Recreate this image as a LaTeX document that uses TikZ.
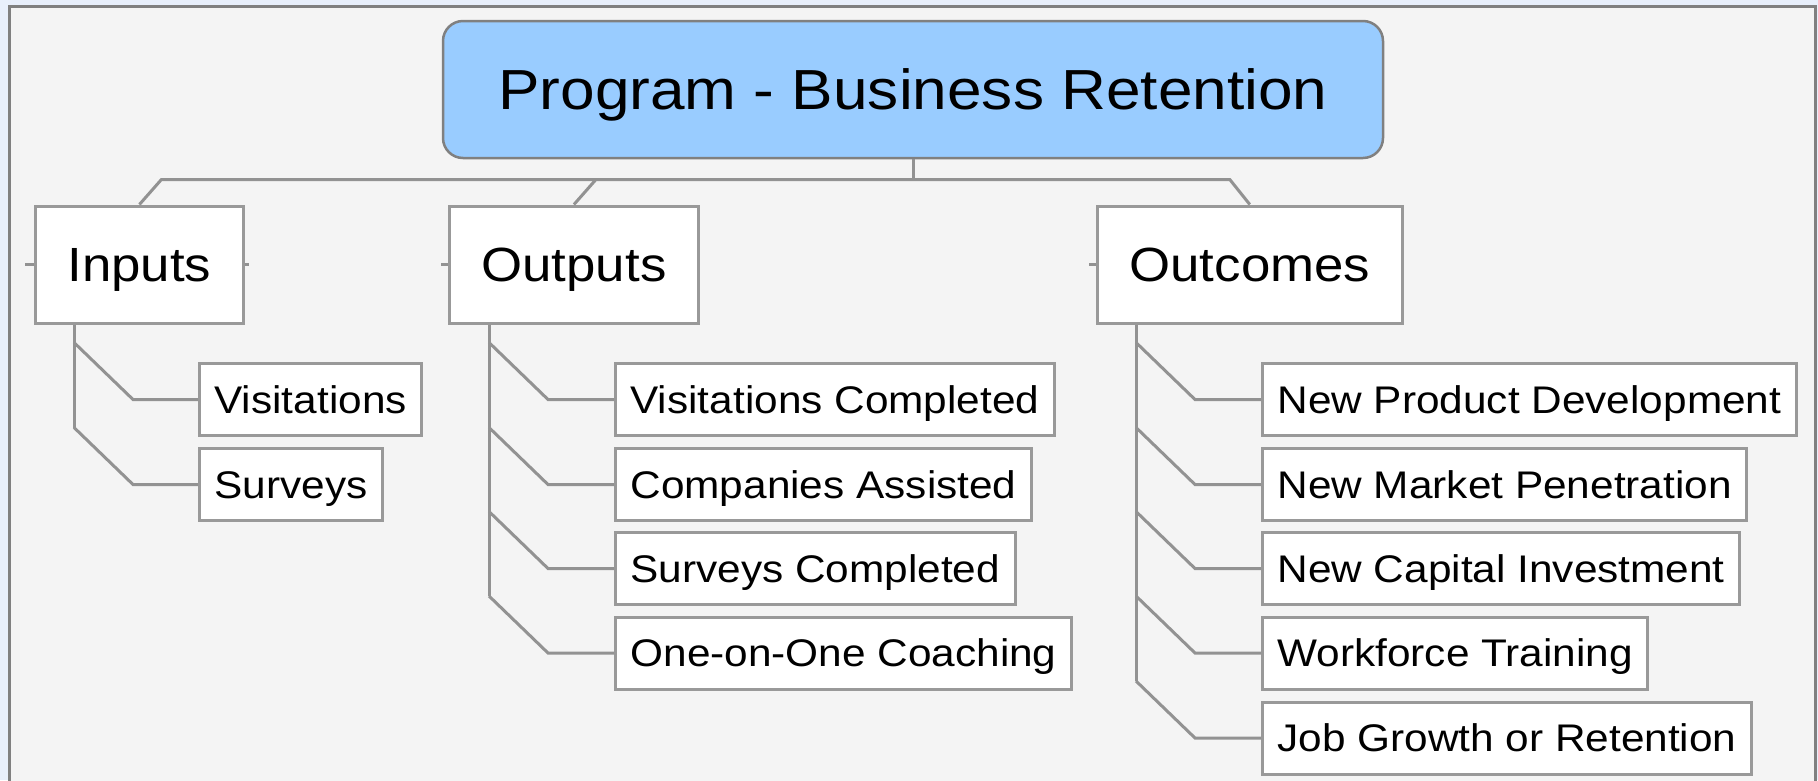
\documentclass[tikz,border=0pt]{standalone}
\usepackage{fontspec}
\setmainfont[FakeStretch=1.1]{Liberation Sans}
\usetikzlibrary{calc}
\definecolor{rootblue}{HTML}{99CCFF}
\definecolor{linkgray}{HTML}{929292}
\definecolor{boxgray}{HTML}{999999}
\definecolor{paper}{HTML}{F4F4F4}
\definecolor{margin}{HTML}{E8EFFB}
\definecolor{framegray}{HTML}{808080}

\begin{document}
\begin{tikzpicture}[x=1pt,y=-1pt]
    \tikzstyle{every node}+=[inner sep=0pt, text depth=0pt]
    \tikzstyle{rootbox}=[draw=framegray, fill=rootblue, line width=2.5pt, rounded corners=20pt, minimum width=940pt, minimum height=137pt, text height=40.5pt, font=\fontsize{56.5}{60}\selectfont]
    \tikzstyle{headbox}=[draw=boxgray, fill=white, line width=3pt, minimum height=117pt, inner xsep=32pt, anchor=west, text height=34.5pt, font=\fontsize{48}{52}\selectfont]
    \tikzstyle{leafbox}=[draw=boxgray, fill=white, line width=3pt, minimum height=72pt, inner xsep=15pt, anchor=west, text height=27.5pt, font=\fontsize{38.5}{42}\selectfont]
    \tikzstyle{link}=[draw=linkgray, line width=3pt]
    \useasboundingbox (0,0) rectangle (1818,780);
    \fill[margin] (0,0) rectangle (1818,780);
    \draw[framegray, fill=paper, line width=3pt] (9.5,6.5) rectangle (1815.5,800);
    \node[rootbox] (root) at (913,89.5) {Program - Business Retention};
    \node[headbox] (inputs) at (34,264.5) {Inputs};
    \node[headbox] (outputs) at (448,264.5) {Outputs};
    \node[headbox] (outcomes) at (1096,264.5) {Outcomes};
    \node[leafbox] (visits) at (198,399.5) {Visitations};
    \node[leafbox] (surveys) at (198,484.5) {Surveys};
    \node[leafbox] (visitsDone) at (614,399.5) {Visitations Completed};
    \node[leafbox] (assisted) at (614,484.5) {Companies Assisted};
    \node[leafbox] (surveysDone) at (614,568.5) {Surveys Completed};
    \node[leafbox] (coaching) at (614,653) {One-on-One Coaching};
    \node[leafbox] (product) at (1261,399.5) {New Product Development};
    \node[leafbox] (market) at (1261,484.5) {New Market Penetration};
    \node[leafbox] (capital) at (1261,568.5) {New Capital Investment};
    \node[leafbox] (workforce) at (1261,653) {Workforce Training};
    \node[leafbox] (jobs) at (1261,738) {Job Growth or Retention};
    \coordinate (busLeft) at ($(inputs.north)+(22,-25)$);
    \coordinate (busRight) at ($(outcomes.north)+(-20,-25)$);
    \draw[link] (inputs.north) -- (busLeft) -- (busRight) -- (outcomes.north);
    \draw[link] (outputs.north) -- ($(outputs.north)+(22,-25)$);
    \draw[link] (root.south) -- (root.south |- busLeft);
    \draw[link] (inputs.west) -- ++(-9,0);
    \draw[link] (inputs.east) -- ++(4,0);
    \draw[link] (outputs.west) -- ++(-7,0);
    \draw[link] (outcomes.west) -- ++(-7,0);
    \coordinate (inSpine) at ($(inputs.south west)+(40,0)$);
    \draw[link] (inSpine) -- ($(inSpine |- surveys)+(0,-57)$);
    \draw[link] ($(inSpine |- visits)+(0,-57)$) -- ++(59,57) -- (visits.west);
    \draw[link] ($(inSpine |- surveys)+(0,-57)$) -- ++(59,57) -- (surveys.west);
    \coordinate (outSpine) at ($(outputs.south west)+(41,0)$);
    \draw[link] (outSpine) -- ($(outSpine |- coaching)+(0,-57)$);
    \draw[link] ($(outSpine |- visitsDone)+(0,-57)$) -- ++(59,57) -- (visitsDone.west);
    \draw[link] ($(outSpine |- assisted)+(0,-57)$) -- ++(59,57) -- (assisted.west);
    \draw[link] ($(outSpine |- surveysDone)+(0,-57)$) -- ++(59,57) -- (surveysDone.west);
    \draw[link] ($(outSpine |- coaching)+(0,-57)$) -- ++(59,57) -- (coaching.west);
    \coordinate (outcSpine) at ($(outcomes.south west)+(40,0)$);
    \draw[link] (outcSpine) -- ($(outcSpine |- jobs)+(0,-57)$);
    \draw[link] ($(outcSpine |- product)+(0,-57)$) -- ++(59,57) -- (product.west);
    \draw[link] ($(outcSpine |- market)+(0,-57)$) -- ++(59,57) -- (market.west);
    \draw[link] ($(outcSpine |- capital)+(0,-57)$) -- ++(59,57) -- (capital.west);
    \draw[link] ($(outcSpine |- workforce)+(0,-57)$) -- ++(59,57) -- (workforce.west);
    \draw[link] ($(outcSpine |- jobs)+(0,-57)$) -- ++(59,57) -- (jobs.west);
\end{tikzpicture}
\end{document}
